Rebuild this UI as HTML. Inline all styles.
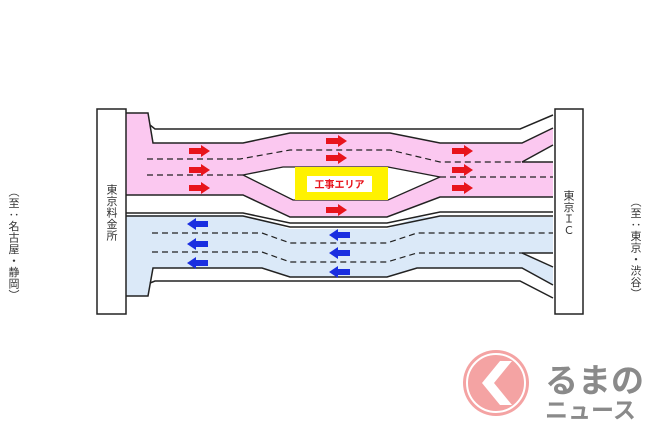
<!DOCTYPE html>
<html><head><meta charset="utf-8"><style>
html,body{margin:0;padding:0;background:#fff;width:650px;height:433px;overflow:hidden;position:relative}
svg{display:block}
text{font-family:"Liberation Sans","Noto Sans CJK JP",sans-serif}
.v{position:absolute;writing-mode:vertical-rl;font-family:"Noto Sans CJK JP",sans-serif;font-size:11px;line-height:12px;color:#333;letter-spacing:0.5px}
</style></head><body>
<svg width="650" height="433" viewBox="0 0 650 433" xmlns="http://www.w3.org/2000/svg">
<defs>
<g id="ar"><polygon points="0,-3 12,-3 12,-6 21,0 12,6 12,3 0,3" fill="#e8141c"/></g>
<g id="al"><polygon points="0,-3 -12,-3 -12,-6 -21,0 -12,6 -12,3 0,3" fill="#1a2ee0"/></g>
</defs>
<polygon fill="#fbc8f0" points="126,113 148,113 153,143 243,143 290,133 390,133 440,143 522,143 553,128 553,145 522,162 553,162 553,197 440,197 387,217 290,217 243,195 126,195"/>
<polygon fill="#fff" stroke="#222" stroke-width="1.3" points="243,175 283,167 388,167 440,177 388,200 293,200"/>
<rect x="295" y="167" width="93" height="33" fill="#fff200"/>
<rect x="307" y="176" width="65" height="16" fill="#fff"/>
<text x="339.5" y="188" font-size="10" font-weight="bold" fill="#e8141c" text-anchor="middle">工事エリア</text>
<polygon fill="#dbe9f8" points="126,215 243,215 290,229 387,229 417,217 553,217 553,253 522,253 553,267 553,285 522,268 417,268 387,277 290,277 262,268 153,268 148,296 126,296"/>
<g fill="none" stroke="#222" stroke-width="1.5">
<polyline points="126,113 148,113 153,143 243,143 290,133 390,133 440,143 522,143 553,128"/>
<polyline points="150,125 155,129 520,129 553,115"/>
<polyline points="522,162 553,145"/>
<line x1="522" y1="162" x2="553" y2="162"/>
<polyline points="126,195 243,195 290,217 387,217 440,197 553,197"/>
<polyline points="126,213 243,213 290,223 387,223 440,212 553,212"/>
<polyline points="126,216 243,216 290,227 387,227 440,216 553,216"/>
<polyline points="126,296 148,296 153,268 262,268 290,277 387,277 417,268 522,268 553,285"/>
<polyline points="150,283 155,281 520,281 553,298"/>
<polyline points="522,253 553,267"/>
<line x1="522" y1="253" x2="553" y2="253"/>
</g>
<g fill="none" stroke="#222" stroke-width="1.2" stroke-dasharray="6,4">
<polyline points="147,159 240,159 290,150 390,150 440,162 522,162"/>
<line x1="147" y1="175" x2="243" y2="175"/>
<line x1="440" y1="177" x2="553" y2="177"/>
<polyline points="152,233 262,233 290,243 387,243 417,233 553,233"/>
<polyline points="152,252 262,252 290,262 387,262 417,253 522,253"/>
</g>
<use href="#ar" x="189" y="151"/><use href="#ar" x="189" y="170"/><use href="#ar" x="189" y="188"/>
<use href="#ar" x="326" y="141"/><use href="#ar" x="326" y="158"/><use href="#ar" x="326" y="210"/>
<use href="#ar" x="452" y="151"/><use href="#ar" x="452" y="170"/><use href="#ar" x="452" y="188"/>
<use href="#al" x="208" y="224"/><use href="#al" x="208" y="244"/><use href="#al" x="208" y="263"/>
<use href="#al" x="350" y="235"/><use href="#al" x="350" y="253"/><use href="#al" x="350" y="272"/>
<rect x="97" y="109" width="29" height="205" fill="#fff" stroke="#222" stroke-width="1.5"/>
<rect x="555" y="109" width="28" height="205" fill="#fff" stroke="#222" stroke-width="1.5"/>
<circle cx="496" cy="383" r="33" fill="#f4a3a3"/>
<circle cx="496" cy="383" r="29" fill="none" stroke="#fff" stroke-width="2"/>
<polygon points="500,361 482,383 500,405 512,405 494,383 512,361" fill="#fff"/>
<text x="545" y="392" font-size="33" font-weight="bold" fill="#8a8a8a">るまの</text>
<text x="545" y="418" font-size="23" font-weight="bold" fill="#8a8a8a">ニュース</text>
</svg>
<div class="v" style="left:106px;top:184px">東京料金所</div>
<div class="v" style="left:563px;top:190px">東京ＩＣ</div>
<div class="v" style="left:8px;top:186px">（至：名古屋・静岡）</div>
<div class="v" style="left:630px;top:196px">（至：東京・渋谷）</div>
</body></html>
